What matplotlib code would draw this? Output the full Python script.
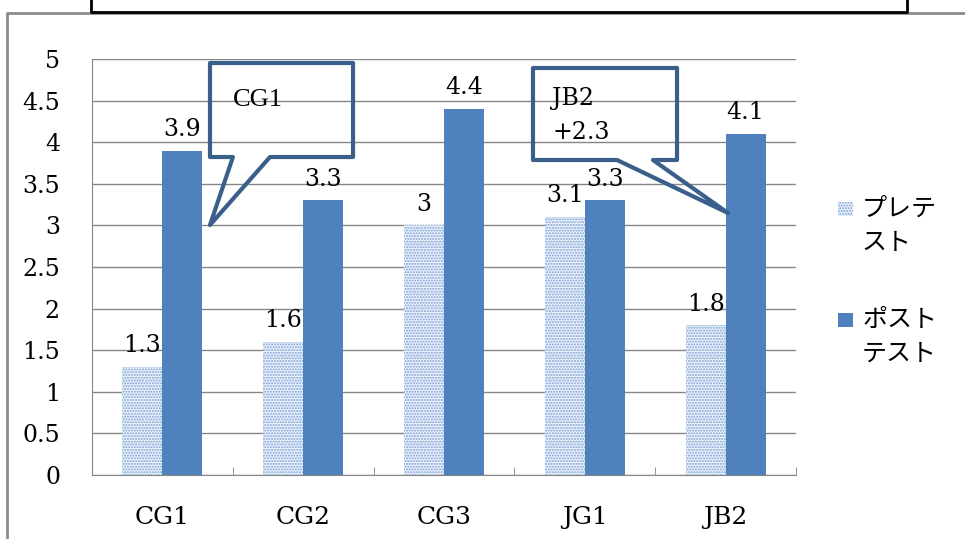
import numpy as np
import matplotlib.pyplot as plt
from matplotlib.patches import Polygon, Rectangle
from matplotlib.lines import Line2D

plt.rcParams['hatch.linewidth'] = 1.0

# データ
groups = ["CG1", "CG2", "CG3", "JG1", "JB2"]
pre_test = [1.3, 1.6, 3.0, 3.1, 1.8]
post_test = [3.9, 3.3, 4.4, 3.3, 4.1]
pre_label = "プレテ\nスト"
post_label = "ポスト\nテスト"

W, H = 965, 539
fig = plt.figure(figsize=(W / 100, H / 100), dpi=100)
ax = fig.add_axes([92 / W, 1 - 475 / H, 704 / W, 416 / H])

x = np.arange(len(groups))
bw = 0.284
blue = "#4f81bd"
dots = "#7aa0d8"
dot_bg = "#eef3fa"
serif = "DejaVu Serif"

pre_bars = ax.bar(x - bw / 2, pre_test, bw, facecolor=dot_bg, edgecolor=dots,
                  hatch="......", linewidth=0, zorder=2)
post_bars = ax.bar(x + bw / 2, post_test, bw, color=blue, linewidth=0, zorder=2)

for bars in (pre_bars, post_bars):
    ax.bar_label(bars, fmt="%g", padding=7, fontsize=17, family=serif)

ax.set_xlim(-0.5, len(groups) - 0.5)
ax.set_ylim(0, 5)
ax.set_yticks(np.arange(0, 5.01, 0.5))
ax.set_yticklabels([f"{v:g}" for v in np.arange(0, 5.01, 0.5)], family=serif, fontsize=17)
ax.set_xticks(x)
ax.set_xticklabels(groups, family=serif, fontsize=18)
ax.set_xticks(np.arange(-0.5, len(groups)), minor=True)
ax.tick_params(axis="x", which="major", length=0, pad=22)
ax.tick_params(axis="x", which="minor", direction="in", length=6, color="#868686")
ax.tick_params(axis="y", length=0, pad=23)

ax.grid(axis="y", color="#868686", linewidth=1)
ax.set_axisbelow(True)
for s in ["top", "right"]:
    ax.spines[s].set_visible(False)
for s in ["left", "bottom"]:
    ax.spines[s].set_color("#868686")

# 吹き出し
edge = "#3a5f8b"
cg1_box = [(0.338, 4.952), (1.354, 4.952), (1.354, 3.822), (0.764, 3.822),
           (0.338, 3.005), (0.501, 3.822), (0.338, 3.822)]
jb2_box = [(2.632, 4.892), (3.655, 4.892), (3.655, 3.786), (3.484, 3.786),
           (4.017, 3.149), (3.229, 3.786), (2.632, 3.786)]
for pts in (cg1_box, jb2_box):
    ax.add_patch(Polygon(pts, closed=True, fill=False, edgecolor=edge, linewidth=3,
                         joinstyle="round", clip_on=False, zorder=4))
ax.text(0.50, 4.51, "CG1", family="Liberation Serif", fontsize=19, va="center", zorder=5)
ax.text(2.77, 4.53, "JB2", family=serif, fontsize=17, va="center", zorder=5)
ax.text(2.77, 4.12, "+2.3", family=serif, fontsize=17, va="center", zorder=5)

# 凡例
jp = ["Noto Sans CJK JP", "DejaVu Sans"]
fig.add_artist(Rectangle((838 / W, 1 - 216 / H), 15 / W, 14 / H, facecolor=dot_bg,
                         edgecolor=dots, hatch="......", linewidth=0,
                         transform=fig.transFigure))
fig.add_artist(Rectangle((838 / W, 1 - 327 / H), 15 / W, 14 / H, facecolor=blue,
                         linewidth=0, transform=fig.transFigure))
for y0, lab in ((209, pre_label), (320, post_label)):
    for i, line in enumerate(lab.split("\n")):
        fig.text(862 / W, 1 - (y0 + 34 * i) / H, line, family=jp, fontsize=18,
                 va="center", ha="left")

# 外枠
gray = "#8c8c8c"
fig.add_artist(Line2D([7 / W, 7 / W, 1], [0, 1 - 13 / H, 1 - 13 / H], color=gray,
                      linewidth=2, transform=fig.transFigure))
fig.add_artist(Line2D([91 / W, 91 / W, 907 / W, 907 / W], [1, 1 - 12 / H, 1 - 12 / H, 1],
                      color="black", linewidth=2, transform=fig.transFigure))

fig.savefig("out.png", dpi=100)
